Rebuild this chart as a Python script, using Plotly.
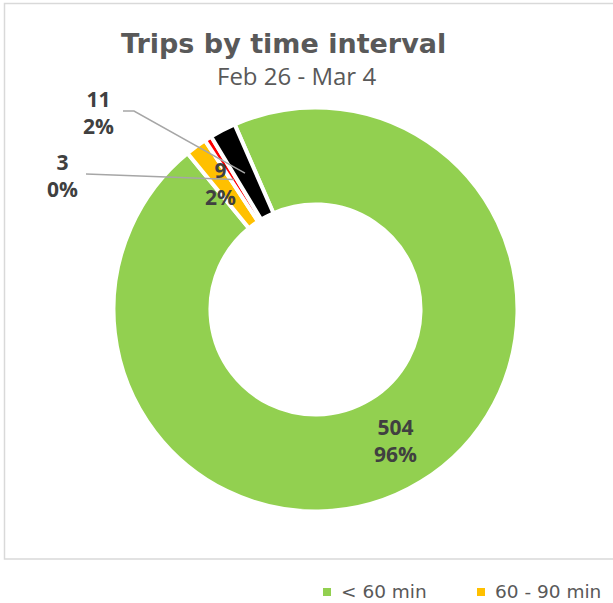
import math
import plotly.graph_objects as go

# ---- data ----
categories = ["< 60 min", "60 - 90 min", "90 - 120 min", "> 120 min"]
trips = [504, 9, 3, 11]
pct_labels = [96, 2, 0, 2]  # as printed on the chart
colors = ["#92D050", "#FFC000", "#FF0000", "#000000"]
title_text = "Trips by time interval"
subtitle_text = "Feb 26 - Mar 4"

# ---- geometry (pixels) ----
W, H = 613, 603
CX, CY = 315.5, 309.5
R = 202
HOLE = 0.52
ROT = -23.6


def pp(x, y):
    return x / W, 1 - y / H


total = sum(trips)

fig = go.Figure()
fig.add_trace(go.Pie(
    labels=categories, values=trips, sort=False, direction="clockwise",
    rotation=ROT, hole=HOLE,
    marker=dict(colors=colors, line=dict(color="white", width=4)),
    domain=dict(x=[(CX - R) / W, (CX + R) / W], y=[(H - CY - R) / H, (H - CY + R) / H]),
    text=[f"{p}%" for p in pct_labels],
    texttemplate="<b>%{value}</b><br><b>%{text}</b>",
    textposition=["inside", "none", "none", "none"],
    insidetextorientation="horizontal",
    textfont=dict(family="Open Sans", size=21, color="#404040"),
    showlegend=False,
))

# slice mid angles (clockwise from 12 o'clock)
mids = []
a = ROT
for v in trips:
    span = v / total * 360
    mids.append(a + span / 2)
    a += span
rmid = R * (1 + HOLE) / 2


def anchor(i):
    ang = math.radians(mids[i])
    return CX + rmid * math.sin(ang), CY - rmid * math.cos(ang)


annos = []
shapes = []
lab_font = dict(family="Open Sans", size=21, color="#404040")

# label positions for small slices (px)
label_pos = {1: (220, 184), 2: (62, 175.5), 3: (98.5, 112.5)}
for i, (lx, ly) in label_pos.items():
    x, y = pp(lx, ly)
    annos.append(dict(x=x, y=y, xref="paper", yref="paper", showarrow=False,
                      text=f"<b>{trips[i]}</b><br><b>{pct_labels[i]}%</b>", font=lab_font,
                      xanchor="center", yanchor="middle"))

# leader lines
leaders = {3: [(123, 111), (134, 111)], 2: [(86, 174)]}
for i, pts in leaders.items():
    ax_, ay_ = anchor(i)
    allp = pts + [(ax_, ay_)]
    path = "M " + " L ".join(f"{pp(x, y)[0]:.5f},{pp(x, y)[1]:.5f}" for x, y in allp)
    shapes.append(dict(type="path", xref="paper", yref="paper", path=path,
                       line=dict(color="#A6A6A6", width=1.5)))

# title
x, y = pp(283.5, 43)
annos.append(dict(x=x, y=y, xref="paper", yref="paper", showarrow=False,
                  text=f"<b>{title_text}</b>", xanchor="center", yanchor="middle",
                  font=dict(family="DejaVu Sans", size=27, color="#595959")))
x, y = pp(296, 76)
annos.append(dict(x=x, y=y, xref="paper", yref="paper", showarrow=False,
                  text=subtitle_text, xanchor="center", yanchor="middle",
                  font=dict(family="Open Sans", size=24, color="#595959")))

# chart border
x0, y0 = pp(4.5, 3.5)
x1, y1 = pp(800, 559)
shapes.append(dict(type="rect", xref="paper", yref="paper", x0=x0, x1=x1, y0=y1, y1=y0,
                   line=dict(color="#D9D9D9", width=1.5), fillcolor="rgba(0,0,0,0)"))

# legend (manual, bottom; only the entries visible in the cropped reference)
leg_x = [323, 477]
for i, sx in enumerate(leg_x):
    a0 = pp(sx, 588)
    a1 = pp(sx + 8, 596)
    shapes.append(dict(type="rect", xref="paper", yref="paper", x0=a0[0], x1=a1[0],
                       y0=a1[1], y1=a0[1], line=dict(width=0), fillcolor=colors[i]))
    tx, ty = pp(sx + 16, 591)
    annos.append(dict(x=tx, y=ty, xref="paper", yref="paper", showarrow=False,
                      text=categories[i], xanchor="left", yanchor="middle",
                      font=dict(family="DejaVu Sans", size=18.5, color="#595959")))

fig.update_layout(
    width=W, height=H, margin=dict(l=0, r=0, t=0, b=0),
    paper_bgcolor="white", plot_bgcolor="white",
    annotations=annos, shapes=shapes,
)
fig.write_html("out.html", config={"displayModeBar": False},
               post_script="document.body.style.margin='0px';document.body.style.overflow='hidden';")
